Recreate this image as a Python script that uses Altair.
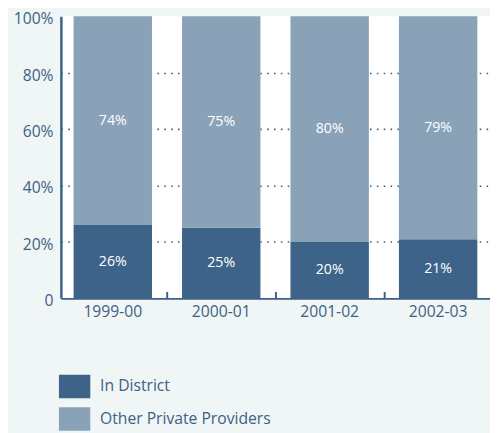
import altair as alt
import pandas as pd

years = ["1999-00", "2000-01", "2001-02", "2002-03"]
series = ["In District", "Other Private Providers"]
in_district = [26, 25, 20, 21]
other_private = [74, 75, 80, 79]
y_ticks = [0, 20, 40, 60, 80, 100]

rows = []
for i, y in enumerate(years):
    rows.append({"year": y, "series": series[0], "value": in_district[i], "ord": 0})
    rows.append({"year": y, "series": series[1], "value": other_private[i], "ord": 1})
df = pd.DataFrame(rows)

AX = "#3d6185"
DARK = "#3d6389"
LIGHT = "#8aa2b8"
FONT = "Open Sans"

PI, PO, W = 0.277, 0.117, 438
STEP = W / (len(years) - PI + 2 * PO)

xscale = alt.Scale(paddingInner=PI, paddingOuter=PO)

x_enc = alt.X(
    "year:N",
    sort=years,
    title=None,
    scale=xscale,
    axis=alt.Axis(
        orient="bottom",
        labelAngle=0,
        labelFont=FONT,
        labelFontSize=16,
        labelColor=AX,
        labelPadding=6,
        domainColor=AX,
        domainWidth=2,
        ticks=False,
        grid=False,
    ),
)

x_tick_enc = alt.X(
    "year:N",
    sort=years,
    title=None,
    scale=xscale,
    axis=alt.Axis(
        orient="bottom",
        offset=-7,
        labels=False,
        domain=False,
        tickOffset=STEP / 2,
        tickColor=AX,
        tickWidth=2,
        tickSize=7,
        grid=False,
    ),
)

y_enc = alt.Y(
    "value:Q",
    stack="zero",
    title=None,
    scale=alt.Scale(domain=[0, 100], nice=False),
    axis=alt.Axis(
        values=y_ticks,
        labelExpr="datum.value === 0 ? '0' : datum.value + '%'",
        labelFont=FONT,
        labelFontSize=16,
        labelColor=AX,
        labelPadding=8,
        labelOffset=2.5,
        ticks=False,
        domainColor=AX,
        domainWidth=2.5,
        grid=True,
        gridColor=AX,
        gridWidth=1.6,
        gridDash=[1.6, 5.4],
        gridOpacity={"condition": {"test": "datum.value === 0 || datum.value === 100", "value": 0}, "value": 1},
    ),
)

bars = alt.Chart(df).mark_bar().encode(
    x=x_enc,
    y=y_enc,
    color=alt.Color(
        "series:N",
        sort=series,
        scale=alt.Scale(domain=series, range=[DARK, LIGHT]),
        legend=alt.Legend(
            title=None,
            orient="none",
            legendX=-2,
            legendY=362,
            padding=0,
            symbolType="M-1,-0.75L1,-0.75L1,0.75L-1,0.75Z",
            symbolSize=1024,
            symbolOpacity=1,
            symbolStrokeWidth=0,
            labelFont=FONT,
            labelFontSize=16,
            labelColor=AX,
            labelOffset=10,
            rowPadding=5,
            labelLimit=400,
        ),
    ),
    order=alt.Order("ord:Q", sort="ascending"),
)

labels = (
    alt.Chart(df)
    .transform_stack(stack="value", groupby=["year"], as_=["v0", "v1"], sort=[alt.SortField("ord", order="ascending")])
    .transform_calculate(mid="(datum.v0 + datum.v1) / 2", txt="datum.value + '%'")
    .mark_text(color="white", font=FONT, fontSize=14.5, baseline="middle")
    .encode(
        x=alt.X("year:N", sort=years, axis=None),
        y=alt.Y("mid:Q"),
        text="txt:N",
    )
)

tick_layer = (
    alt.Chart(df)
    .transform_filter("false")
    .mark_square()
    .encode(x=x_tick_enc, y=alt.Y("value:Q"))
)

chart = (
    alt.layer(bars, labels, tick_layer)
    .resolve_axis(x="independent")
    .properties(
        width=W,
        height=288,
        background="#f0f5f5",
        padding={"left": 54, "top": 4, "right": 0, "bottom": 133},
        autosize=alt.AutoSizeParams(type="none"),
    )
    .configure_view(fill="white", stroke=None)
)

chart.save("out.html", embed_options={"renderer": "svg", "actions": False})
